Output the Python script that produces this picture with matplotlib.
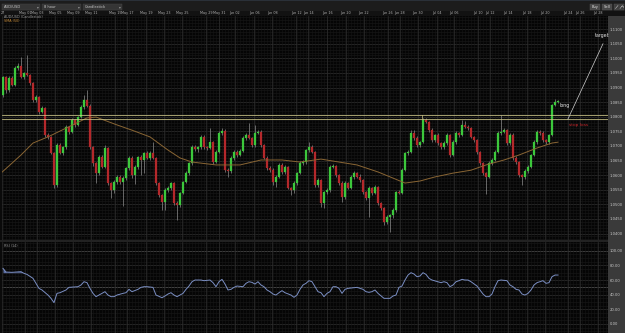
import matplotlib
matplotlib.use("Agg")
import matplotlib.pyplot as plt
from matplotlib.patches import Rectangle

# ---------------- data ----------------
first_open = 1.0874
closes = [
    1.0936, 1.0892, 1.0933, 1.0909, 1.0967, 1.0974, 1.0936, 1.0950, 1.0943, 1.0915,
    1.0857, 1.0868, 1.0816, 1.0830, 1.0737, 1.0731, 1.0676, 1.0566, 1.0703, 1.0676,
    1.0696, 1.0765, 1.0748, 1.0789, 1.0772, 1.0799, 1.0833, 1.0857, 1.0837, 1.0696,
    1.0641, 1.0607, 1.0662, 1.0628, 1.0693, 1.0573, 1.0549, 1.0576, 1.0594, 1.0576,
    1.0590, 1.0624, 1.0659, 1.0600, 1.0628, 1.0662, 1.0652, 1.0676, 1.0659, 1.0676,
    1.0659, 1.0573, 1.0532, 1.0508, 1.0549, 1.0556, 1.0573, 1.0504, 1.0498, 1.0539,
    1.0576, 1.0607, 1.0641, 1.0696, 1.0689, 1.0696, 1.0731, 1.0696, 1.0693, 1.0713,
    1.0645, 1.0679, 1.0744, 1.0751, 1.0618, 1.0614, 1.0659, 1.0679, 1.0669, 1.0683,
    1.0727, 1.0737, 1.0727, 1.0703, 1.0744, 1.0748, 1.0703, 1.0659, 1.0624, 1.0618,
    1.0576, 1.0594, 1.0635, 1.0611, 1.0628, 1.0556, 1.0549, 1.0573, 1.0607, 1.0641,
    1.0645, 1.0686, 1.0696, 1.0679, 1.0566, 1.0583, 1.0504, 1.0542, 1.0549, 1.0628,
    1.0631, 1.0600, 1.0573, 1.0525, 1.0573, 1.0556, 1.0594, 1.0607, 1.0594, 1.0583,
    1.0542, 1.0522, 1.0556, 1.0539, 1.0559, 1.0504, 1.0487, 1.0439, 1.0457, 1.0463,
    1.0481, 1.0542, 1.0539, 1.0618, 1.0676, 1.0679, 1.0744, 1.0727, 1.0703, 1.0713,
    1.0789, 1.0782, 1.0754, 1.0720, 1.0737, 1.0710, 1.0696, 1.0710, 1.0737, 1.0669,
    1.0713, 1.0744, 1.0737, 1.0772, 1.0765, 1.0761, 1.0731, 1.0720, 1.0679, 1.0641,
    1.0607, 1.0594, 1.0641, 1.0652, 1.0679, 1.0744, 1.0748, 1.0754, 1.0710, 1.0737,
    1.0659, 1.0645, 1.0600, 1.0594, 1.0614, 1.0628, 1.0669, 1.0713, 1.0748, 1.0744,
    1.0720, 1.0713, 1.0737, 1.0840, 1.0850, 1.0854,
]
# wick extensions beyond the body, in pips (0.0001)
upper_wick_pips = [
    4, 3, 6, 5, 8, 10, 30, 4, 60, 5,
    4, 6, 4, 8, 5, 6, 4, 5, 6, 8,
    5, 6, 4, 6, 5, 4, 6, 17, 34, 5,
    4, 5, 8, 6, 10, 4, 5, 6, 8, 5,
    6, 5, 8, 5, 6, 5, 6, 5, 8, 6,
    38, 4, 5, 4, 6, 8, 5, 4, 6, 5,
    4, 6, 5, 8, 6, 5, 6, 8, 5, 48,
    5, 8, 6, 10, 6, 5, 6, 8, 6, 5,
    8, 6, 41, 5, 27, 6, 5, 4, 5, 6,
    5, 6, 8, 5, 6, 4, 5, 6, 5, 8,
    6, 5, 17, 6, 5, 8, 4, 5, 6, 8,
    6, 5, 4, 6, 8, 5, 6, 8, 5, 10,
    5, 4, 6, 5, 8, 4, 5, 4, 6, 5,
    6, 5, 6, 8, 5, 6, 10, 12, 6, 5,
    6, 8, 5, 6, 5, 6, 5, 6, 8, 5,
    6, 8, 5, 17, 15, 6, 5, 4, 5, 4,
    5, 4, 6, 8, 6, 8, 58, 6, 5, 8,
    6, 5, 4, 5, 6, 8, 5, 6, 8, 5,
    6, 5, 4, 4, 10, 5,
]
lower_wick_pips = [
    8, 10, 6, 5, 4, 6, 5, 6, 5, 6,
    8, 6, 5, 4, 6, 8, 5, 10, 6, 5,
    6, 5, 8, 5, 6, 5, 4, 6, 5, 6,
    8, 34, 6, 5, 4, 8, 27, 10, 6, 5,
    80, 6, 5, 8, 30, 6, 50, 45, 5, 6,
    5, 8, 6, 27, 27, 6, 8, 5, 51, 6,
    5, 4, 6, 5, 6, 8, 5, 6, 8, 5,
    6, 5, 4, 5, 6, 20, 5, 6, 8, 5,
    5, 6, 4, 6, 5, 4, 6, 5, 8, 6,
    10, 15, 5, 6, 8, 5, 17, 10, 5, 4,
    5, 6, 5, 4, 6, 5, 14, 17, 6, 5,
    4, 6, 5, 17, 6, 5, 4, 6, 5, 6,
    6, 8, 65, 6, 5, 6, 5, 10, 6, 51,
    8, 6, 5, 4, 5, 6, 4, 5, 6, 5,
    4, 5, 6, 5, 6, 5, 8, 5, 6, 8,
    5, 6, 5, 4, 5, 6, 5, 6, 5, 6,
    8, 60, 5, 6, 5, 4, 6, 5, 6, 5,
    6, 8, 5, 27, 6, 5, 4, 5, 6, 5,
    8, 6, 5, 4, 3, 3,
]

sma_idx = [-1, 6, 10, 15, 21, 28, 31, 38, 43, 49, 55, 59, 63, 71, 79, 86, 93, 99,
           106, 112, 118, 125, 130, 134, 139, 144, 150, 156, 161, 167, 172, 178, 183, 185]
sma_vals = [1.0604, 1.0669, 1.0710, 1.0731, 1.0761, 1.0796, 1.0799, 1.0772, 1.0754,
            1.0731, 1.0686, 1.0659, 1.0645, 1.0635, 1.0635, 1.0652, 1.0652, 1.0645,
            1.0655, 1.0645, 1.0635, 1.0611, 1.0590, 1.0573, 1.0580, 1.0594, 1.0607,
            1.0617, 1.0635, 1.0652, 1.0669, 1.0693, 1.0710, 1.0713]

rsi_idx = [0, 1, 3, 6, 7, 8, 10, 11, 12, 13, 15, 16, 17, 18, 19, 21, 22, 25, 26, 27,
           28, 29, 30, 31, 32, 33, 34, 35, 36, 37, 38, 40, 41, 42, 43, 45, 46, 47, 48, 50,
           51, 53, 54, 55, 56, 57, 58, 60, 61, 62, 63, 64, 66, 67, 69, 70, 71, 72, 73, 74,
           75, 76, 77, 78, 80, 81, 82, 83, 84, 85, 86, 87, 88, 89, 90, 91, 92, 93, 94, 96,
           97, 98, 99, 100, 101, 102, 103, 104, 105, 106, 107, 108, 109, 110, 111, 112, 113,
           114, 115, 117, 118, 120, 121, 122, 123, 124, 125, 127, 129, 130, 131, 132, 133,
           134, 135, 136, 137, 138, 139, 140, 141, 142, 143, 145, 146, 147, 148, 149, 150,
           151, 152, 153, 154, 155, 156, 158, 159, 160, 161, 162, 163, 164, 165, 166, 168,
           169, 170, 171, 172, 173, 174, 175, 176, 177, 178, 179, 180, 181, 182, 183, 184, 185]
rsi_vals = [75.9, 70.9, 70.5, 71.4, 69.1, 67.7, 62.3, 55.5, 48.6, 46.4, 39.5, 35.0, 29.1,
            41.8, 42.7, 46.4, 50.0, 50.9, 53.2, 57.7, 56.4, 48.6, 41.8, 37.3, 39.5, 41.8,
            44.1, 39.5, 37.3, 37.3, 39.5, 41.8, 42.7, 47.3, 44.1, 47.3, 50.0, 50.9, 50.9,
            50.0, 39.5, 35.9, 38.2, 40.9, 42.7, 39.5, 37.3, 41.8, 47.3, 51.8, 57.7, 60.0,
            60.0, 59.1, 60.0, 56.4, 50.9, 57.7, 60.9, 54.5, 46.4, 47.3, 50.0, 51.8, 50.9,
            55.5, 57.7, 56.8, 54.5, 57.7, 53.2, 50.9, 46.4, 44.1, 40.9, 39.5, 42.7, 45.5,
            42.7, 39.5, 36.4, 39.5, 47.3, 53.2, 55.5, 59.1, 57.7, 50.9, 44.1, 42.7, 37.3,
            41.8, 44.1, 50.9, 50.9, 48.6, 41.8, 47.3, 48.6, 49.5, 50.0, 47.3, 44.1, 43.2,
            44.1, 46.4, 41.8, 35.0, 35.0, 38.2, 39.5, 50.0, 51.8, 60.0, 66.8, 70.0, 68.2,
            64.5, 65.5, 70.0, 67.7, 62.3, 60.0, 57.7, 56.4, 57.7, 56.4, 50.9, 53.2, 57.7,
            59.1, 60.9, 60.0, 60.0, 57.7, 51.8, 46.4, 40.9, 37.3, 37.3, 40.9, 50.9, 59.1,
            60.0, 59.1, 53.2, 50.9, 47.3, 46.4, 40.9, 39.5, 41.8, 46.4, 53.2, 56.4, 57.7,
            59.1, 55.5, 56.4, 64.5, 66.8, 66.8]

resistance_levels = [1.0807, 1.0792]

price_ticks = [1.0400, 1.0450, 1.0500, 1.0550, 1.0600, 1.0650, 1.0700, 1.0750,
               1.0800, 1.0850, 1.0900, 1.0950, 1.1000, 1.1050, 1.1100]
price_tick_labels = ["1.0400", "1.0450", "1.0500", "1.0550", "1.0600", "1.0650",
                     "1.0700", "1.0750", "1.0800", "1.0850", "1.0900", "1.0950",
                     "1.1000", "1.1050", "1.1100"]
rsi_ticks = [0, 20, 40, 60, 80, 100]
rsi_tick_labels = ["0.00", "20.00", "40.00", "60.00", "80.00", "100.00"]

date_labels = ["27", "May 01", "May 03", "May 05", "May 09", "May 11", "May 15", "May 17",
               "May 19", "May 23", "May 25", "May 29", "May 31", "Jun 02", "Jun 06",
               "Jun 08", "Jun 12", "Jun 14", "Jun 16", "Jun 20", "Jun 22", "Jun 26",
               "Jun 28", "Jun 30", "Jul 04", "Jul 06", "Jul 10", "Jul 12", "Jul 14",
               "Jul 18", "Jul 20", "Jul 24", "Jul 26", "Jul 28"]
date_pos = [-0.2, 7.3, 11.3, 17.3, 23.3, 29.3, 37.3, 41.3, 47.7, 53.7, 59.7, 67.7, 72.0,
            77.3, 83.7, 89.7, 97.7, 101.7, 108.0, 114.3, 120.3, 128.3, 132.3, 138.3,
            144.7, 150.3, 158.3, 162.3, 168.3, 174.7, 180.7, 188.3, 192.3, 198.3]

# ---------------- derived OHLC ----------------
n = len(closes)
idx = list(range(n))
opens = [first_open] + closes[:-1]
highs = [max(o, c) + u * 0.0001 for o, c, u in zip(opens, closes, upper_wick_pips)]
lows = [min(o, c) - l * 0.0001 for o, c, l in zip(opens, closes, lower_wick_pips)]

# ---------------- figure ----------------
W, H = 625, 333
fig = plt.figure(figsize=(6.25, 3.33), dpi=100)
fig.patch.set_facecolor('#0a0a0a')

TXT = '#c8c8c8'

bg = fig.add_axes([0, 0, 1, 1])
bg.set_xlim(0, W)
bg.set_ylim(H, 0)
bg.axis('off')
# toolbar
bg.add_patch(Rectangle((0, 0), W, 11, color='#1c1c1c', lw=0))
bg.add_patch(Rectangle((0, 0), W, 1.0, color='#2a3038', lw=0))
for (x0, x1, lab) in [(2, 40, 'AUD/USD'), (42, 81, '8 hour'), (83, 122, 'Candlestick')]:
    bg.add_patch(Rectangle((x0, 3.5), x1 - x0, 6, facecolor='#353535', edgecolor='#484848', lw=0.3))
    bg.text(x0 + 2, 6.6, lab, fontsize=2.6, color=TXT, va='center', ha='left')
    bg.text(x1 - 1.5, 6.6, '▾', fontsize=2.6, color='#999999', va='center', ha='right')
for (x0, x1, lab) in [(590, 600, 'Buy'), (602, 612, 'Sell')]:
    bg.add_patch(Rectangle((x0, 4), x1 - x0, 6, facecolor='#484848', edgecolor='#5a5a5a', lw=0.3))
    bg.text((x0 + x1) / 2, 7, lab, fontsize=2.6, color='#e0e0e0', va='center', ha='center')
bg.add_patch(Rectangle((614, 4), 10, 6, facecolor='#3e3e3e', edgecolor='#5a5a5a', lw=0.3))
bg.plot([615.5, 618.0], [8.5, 5.5], color='#bbbbbb', lw=0.4)
bg.plot([620.0, 622.5], [8.5, 5.5], color='#bbbbbb', lw=0.4)
bg.plot([621.0, 622.5, 622.5], [5.5, 5.5, 7.0], color='#bbbbbb', lw=0.4)
# date strip
bg.add_patch(Rectangle((0, 11), W, 5, color='#121212', lw=0))
# right axis column
bg.add_patch(Rectangle((608, 16), W - 608, H - 16, color='#3a3a3a', lw=0))
# separator between panels
bg.add_patch(Rectangle((0, 240), 608, 2, color='#222222', lw=0))

# ---------------- main price panel ----------------
ax = fig.add_axes([2 / W, 1 - 240 / H, 606 / W, 224 / H])
ax.set_facecolor('#050505')
ax.set_xlim(-0.33, 201.67)
ax.set_ylim(1.0378, 1.1145)
for s in ax.spines.values():
    s.set_visible(False)

# grid
minor_prices = [1.038 + 0.001 * k for k in range(77)]
for p in minor_prices:
    ax.axhline(p, color='#1a1a1a', lw=0.4, zorder=0)
for p in price_ticks:
    ax.axhline(p, color='#2c2c2c', lw=0.5, zorder=0)
for k in range(-1, 203):
    ax.axvline(k, color='#161616', lw=0.4, zorder=0)
for d in date_pos:
    ax.axvline(d, color='#2e2e2e', lw=0.5, zorder=0)

ax.yaxis.tick_right()
ax.set_yticks(price_ticks)
ax.set_yticklabels(price_tick_labels, fontsize=2.7, color=TXT)
ax.tick_params(axis='y', length=0, pad=1.2)
ax.xaxis.tick_top()
ax.set_xticks(date_pos)
ax.set_xticklabels(date_labels, fontsize=2.4, color='#b0b0b0')
ax.tick_params(axis='x', length=0, pad=1.0)

# candles
up_c, dn_c = '#3cc83c', '#b4282b'
colors = [up_c if c >= o else dn_c for o, c in zip(opens, closes)]
ax.vlines(idx, lows, highs, color='#8c8c8c', lw=0.5, zorder=2)
ax.bar(idx, [c - o for o, c in zip(opens, closes)], bottom=opens, width=0.62,
       color=colors, edgecolor=colors, lw=0.2, zorder=3)

# SMA
ax.plot(sma_idx, sma_vals, color='#8a6634', lw=0.7, zorder=4)

# resistance zone
for lvl in resistance_levels:
    ax.axhline(lvl, color='#cfc88a', lw=0.55, zorder=5)
ax.plot([139.7, 139.7], resistance_levels, color='#cfc88a', lw=0.5, zorder=5)

# trade annotations
ax.plot([188.3, 200.0], [1.0792, 1.1050], color='#d0d0d0', lw=0.5, zorder=6)
ax.text(187.2, 1.0838, 'long', fontsize=3.4, color='#e6e6e6', ha='center', va='center')
ax.text(192.0, 1.0773, 'stop loss', fontsize=3.2, color='#c8282c', ha='center', va='center')
ax.text(199.6, 1.1078, 'target', fontsize=3.4, color='#e6e6e6', ha='center', va='center')

ax.text(0.4, 1.1140, 'AUD/USD (Candlestick)', fontsize=2.4, color='#9a9a9a', va='center', ha='left')
ax.text(0.4, 1.1128, 'SMA (50)', fontsize=2.4, color='#c78a36', va='center', ha='left')

# ---------------- RSI panel ----------------
ax2 = fig.add_axes([2 / W, 0, 606 / W, 91 / H])
ax2.set_facecolor('#050505')
ax2.set_xlim(-0.33, 201.67)
ax2.set_ylim(-12.3, 111.9)
for s in ax2.spines.values():
    s.set_visible(False)
for k in range(-10, 111, 5):
    ax2.axhline(k, color='#1a1a1a', lw=0.4, zorder=0)
for k in rsi_ticks:
    ax2.axhline(k, color='#2c2c2c', lw=0.5, zorder=0)
ax2.axhline(50, color='#4a4a4a', lw=0.6, zorder=0)
ax2.axhline(100, color='#3e3e3e', lw=0.6, zorder=0)
for k in range(-1, 203):
    ax2.axvline(k, color='#161616', lw=0.4, zorder=0)
for d in date_pos:
    ax2.axvline(d, color='#2e2e2e', lw=0.5, zorder=0)

ax2.plot(rsi_idx, rsi_vals, color='#7b8fc4', lw=0.7, zorder=3)
ax2.fill_between(rsi_idx, rsi_vals, 70, where=[v > 70 for v in rsi_vals],
                 interpolate=True, color='#6f86c8', alpha=0.8, lw=0, zorder=2)
ax2.yaxis.tick_right()
ax2.set_yticks(rsi_ticks)
ax2.set_yticklabels(rsi_tick_labels, fontsize=2.7, color=TXT)
ax2.tick_params(axis='y', length=0, pad=1.2)
ax2.set_xticks([])
ax2.text(0.4, 107, 'RSI (14)', fontsize=2.4, color='#9a9a9a', va='center', ha='left')

fig.savefig('out.png', dpi=100, facecolor=fig.get_facecolor())
